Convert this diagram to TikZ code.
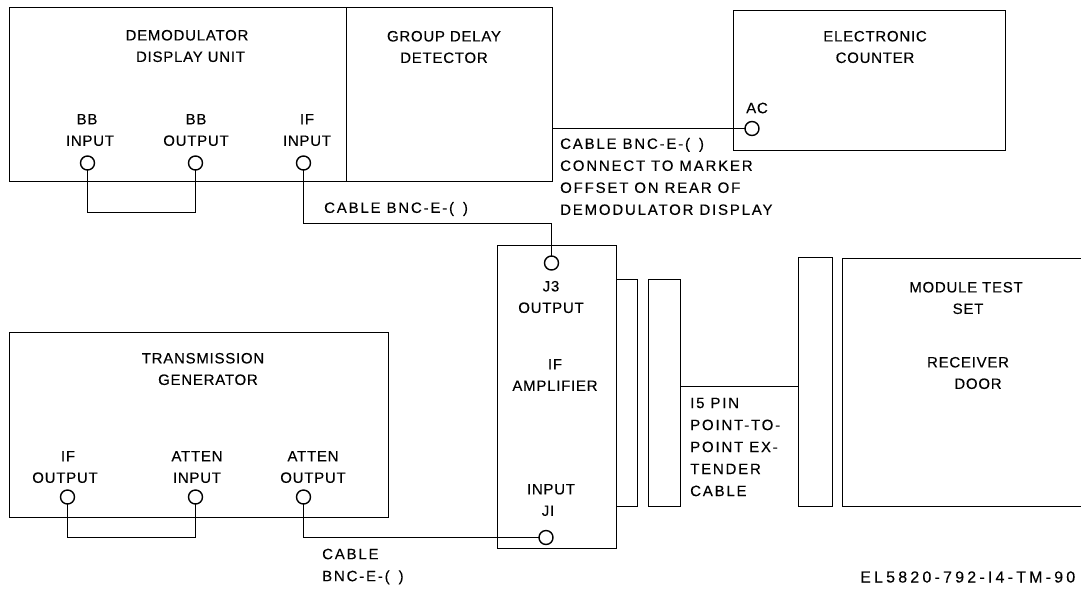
\documentclass[tikz,border=0pt]{standalone}
\usepackage{fontspec}
\setmainfont{Liberation Sans}
\newfontfamily\labfont[LetterSpace=5,FakeBold=0.25]{Liberation Sans}
\newfontfamily\notefont[LetterSpace=12,FakeBold=0.25]{Liberation Sans}
\newfontfamily\idfont[LetterSpace=20,FakeBold=0.25]{Liberation Sans}
\begin{document}
\begin{tikzpicture}[x=1pt,y=-1pt,
 box/.style={draw=black,line width=1.7pt,fill=none,inner sep=0pt,outer sep=0pt,anchor=north west},
 wire/.style={draw=black,line width=1.6pt},
 jack/.style={circle,draw=black,line width=1.4pt,fill=white,minimum size=14pt,inner sep=0pt,outer sep=0pt},
 lab/.style={font=\labfont\fontsize{15pt}{21.5pt}\selectfont,align=center,inner sep=0pt},
 labl/.style={font=\notefont\fontsize{15pt}{22pt}\selectfont,align=left,inner sep=0pt}]
\useasboundingbox (0,0) rectangle (1081,590);
\node[box,minimum width=337pt,minimum height=174pt] (dd) at (9.5,7.5) {};
\node[box,minimum width=206pt,minimum height=174pt] (gd) at (346.5,7.5) {};
\node[box,minimum width=272pt,minimum height=140pt] (ec) at (733.5,10.5) {};
\node[box,minimum width=379pt,minimum height=185pt] (tg) at (9.5,332.5) {};
\node[box,minimum width=119pt,minimum height=303pt] (ifa) at (497.5,245.5) {};
\node[box,minimum width=21pt,minimum height=227pt] (p1) at (616.5,279.5) {};
\node[box,minimum width=32pt,minimum height=227pt] (p2) at (648.5,279.5) {};
\node[box,minimum width=34pt,minimum height=249pt] (p3) at (798.5,257.5) {};
\node[box,minimum width=245pt,minimum height=248pt] (mt) at (842.5,258.5) {};

\node[lab] (t1) at (187,46) {DEMODULATOR\\\hspace*{7pt}DISPLAY UNIT};
\node[lab] (t2) at (444,47) {GROUP DELAY\\DETECTOR};
\node[lab] (t3) at (875,47) {ELECTRONIC\\COUNTER};
\node[lab] (t4) at (203,369) {TRANSMISSION\\\hspace*{10pt}GENERATOR};
\node[lab] (t5) at (555,375) {IF\\AMPLIFIER};
\node[lab] (t6) at (966,298) {MODULE TEST\\\hspace*{4pt}SET};
\node[lab] (t7) at (968,373) {RECEIVER\\\hspace*{20pt}DOOR};

\node[lab] (l1) at (90,130) {BB\hspace*{6pt}\\INPUT};
\node[lab] (l2) at (196,130) {BB\\OUTPUT};
\node[lab] (l3) at (307,130) {IF\\INPUT};
\node[lab] (l4) at (757,108) {AC};
\node[lab] (l5) at (551,297) {J3\\OUTPUT};
\node[lab] (l6) at (551,500) {INPUT\\\hspace*{-6pt}JI};
\node[lab] (l7) at (65,467) {\hspace*{6pt}IF\\OUTPUT};
\node[lab] (l8) at (197,467) {ATTEN\\INPUT};
\node[lab] (l9) at (313,467) {ATTEN\\OUTPUT};

\node[jack] (j1) at (87.5,163) {};
\node[jack] (j2) at (195.5,163) {};
\node[jack] (j3) at (303.5,163) {};
\node[jack] (j4) at (752,128.5) {};
\node[jack] (j5) at (551.5,263) {};
\node[jack] (j6) at (546,537.5) {};
\node[jack] (j7) at (67.5,497) {};
\node[jack] (j8) at (195.5,497) {};
\node[jack] (j9) at (303.5,497) {};

\coordinate (c1) at (87.5,212.5);
\coordinate (c2) at (195.5,212.5);
\coordinate (c3) at (303.5,223.5);
\coordinate (c4) at (551.5,223.5);
\coordinate (c5) at (67.5,537.5);
\coordinate (c5b) at (195.5,537.5);
\coordinate (c6) at (303.5,537.5);
\coordinate (c7) at (552.5,128.5);
\coordinate (c8) at (680.5,386.5);
\coordinate (c9) at (798.5,386.5);

\draw[wire] (j1.south) -- (c1) -- (c2) -- (j2.south);
\draw[wire] (j3.south) -- (c3) -- (c4) -- (j5.north);
\draw[wire] (j7.south) -- (c5) -- (c5b) -- (j8.south);
\draw[wire] (j9.south) -- (c6) -- (j6.west);
\draw[wire] (c7) -- (j4.west);
\draw[wire] (c8) -- (c9);

\node[labl,anchor=west] (n1) at (560,176.5) {CABLE BNC-E-(\hspace{9pt})\\CONNECT TO MARKER\\OFFSET ON REAR OF\\DEMODULATOR DISPLAY};
\node[labl,anchor=west] (n2) at (324,209) {CABLE BNC-E-(\hspace{9pt})};
\node[labl,anchor=west] (n3) at (690,447) {I5 PIN\\POINT-TO-\\POINT EX-\\TENDER\\CABLE};
\node[labl,anchor=west] (n4) at (322,566.5) {CABLE\\BNC-E-(\hspace{9pt})};
\node[labl,anchor=west,font=\idfont\fontsize{16pt}{18pt}\selectfont] (n5) at (860,577) {EL5820-792-I4-TM-90};
\end{tikzpicture}
\end{document}
